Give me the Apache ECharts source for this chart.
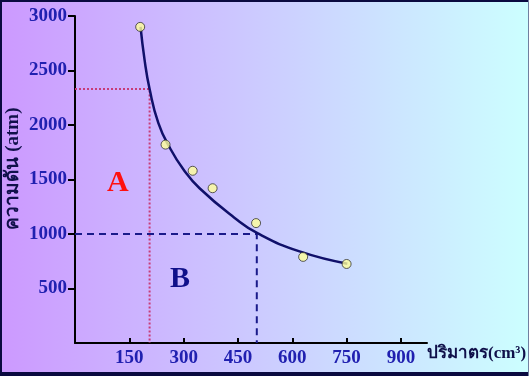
<!DOCTYPE html>
<html>
<head>
<meta charset="utf-8">
<script src="https://cdn.jsdelivr.net/npm/echarts@6/dist/echarts.min.js"></script>
<style>
  html, body { margin: 0; padding: 0; }
  #chart { width: 529px; height: 376px; }
</style>
</head>
<body>
<div id="chart"></div>
<script>
// measured points (volume cm3, pressure atm)
var pointVolume = [180, 250, 325, 380, 500, 630, 750]
var pointPressure = [2900, 1820, 1580, 1420, 1100, 790, 725]
// fitted curve
var curveVolume = [181, 192, 206, 230, 262, 300, 344, 440, 505, 620, 752]
var curvePressure = [2900, 2600, 2330, 2020, 1790, 1590, 1420, 1150, 1005, 840, 728]
// guide lines
var lineA = [[0, 2330], [206, 2330], [206, 0]]
var lineB = [[0, 1000], [502, 1000], [502, 0]]
var xTicks = [150, 300, 450, 600, 750, 900]
var yTicks = [500, 1000, 1500, 2000, 2500, 3000]

var chart = echarts.init(document.getElementById('chart'))
var labelFont = {
  color: '#2020B0',
  fontFamily: 'Liberation Serif',
  fontWeight: 'bold',
  fontSize: 19,
  formatter: function (v) { return String(v) }
}
chart.setOption({
  backgroundColor: {
    type: 'linear', x: 0, y: 0, x2: 1, y2: 0,
    colorStops: [
      { offset: 0, color: '#CC99FF' },
      { offset: 1, color: '#CCFFFF' }
    ]
  },
  animation: false,
  grid: { left: 75, top: 16, right: 102, bottom: 33, containLabel: false, outerBoundsMode: 'none' },
  xAxis: {
    type: 'value',
    min: 0,
    max: 972,
    splitLine: { show: false },
    axisLine: { lineStyle: { color: '#000', width: 2 } },
    axisTick: { inside: true, length: 5, customValues: xTicks, lineStyle: { color: '#000', width: 2 } },
    axisLabel: Object.assign({ margin: 6, customValues: xTicks }, labelFont),
    name: 'ปริมาตร(cm³)',
    nameLocation: 'end',
    nameGap: 0,
    nameTextStyle: {
      color: '#10104A',
      fontFamily: 'Liberation Serif',
      fontWeight: 'bold',
      fontSize: 17,
      align: 'left',
      verticalAlign: 'top',
      padding: [2, 0, 0, 0]
    }
  },
  yAxis: {
    type: 'value',
    min: 0,
    max: 3000,
    splitLine: { show: false },
    axisLine: { lineStyle: { color: '#000', width: 2 } },
    axisTick: { length: 7, customValues: yTicks, lineStyle: { color: '#000', width: 2 } },
    axisLabel: Object.assign({ margin: 8, customValues: yTicks }, labelFont),
    name: 'ความดัน (atm)',
    nameLocation: 'middle',
    nameRotate: 90,
    nameGap: 52,
    nameMoveOverlap: false,
    nameTextStyle: {
      color: '#10104A',
      fontFamily: 'Liberation Serif',
      fontWeight: 'bold',
      fontSize: 19,
      padding: [0, 0, 0, 22]
    }
  },
  graphic: [
    { type: 'text', left: 107, top: 168, style: { text: 'A', fill: '#FF1010', font: 'bold 30px "Liberation Serif"' } },
    { type: 'text', left: 170, top: 264, style: { text: 'B', fill: '#10108A', font: 'bold 30px "Liberation Serif"' } },
    { type: 'rect', shape: { x: 0, y: 0, width: 529, height: 2 }, style: { fill: '#0A0A40' } },
    { type: 'rect', shape: { x: 0, y: 0, width: 2, height: 376 }, style: { fill: '#0A0A40' } },
    { type: 'rect', shape: { x: 0, y: 372, width: 529, height: 4 }, style: { fill: '#0A0A40' } },
    { type: 'rect', shape: { x: 528, y: 0, width: 1, height: 376 }, style: { fill: '#7080A0' } }
  ],
  series: [
    {
      type: 'line',
      data: lineA,
      symbol: 'none',
      lineStyle: { color: '#C83C78', width: 2, type: 'dotted' },
      z: 1
    },
    {
      type: 'line',
      data: lineB,
      symbol: 'none',
      lineStyle: { color: '#1A1A8A', width: 2, type: [7, 5] },
      z: 1
    },
    {
      type: 'line',
      data: curveVolume.map(function (v, i) { return [v, curvePressure[i]] }),
      smooth: 0.5,
      symbol: 'none',
      lineStyle: { color: '#10106A', width: 2.5 },
      z: 2
    },
    {
      type: 'scatter',
      data: pointVolume.map(function (v, i) { return [v, pointPressure[i]] }),
      symbolSize: 9,
      itemStyle: { color: '#FFFF99', borderColor: '#333', borderWidth: 1 },
      z: 3
    }
  ]
})
</script>
</body>
</html>
